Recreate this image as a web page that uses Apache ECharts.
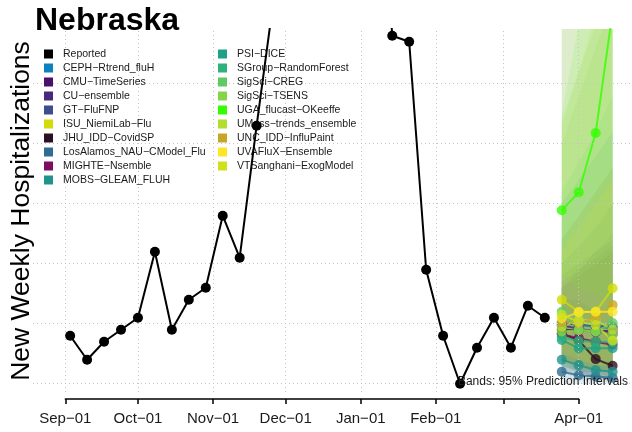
<!DOCTYPE html>
<html>
<head>
<meta charset="utf-8">
<script src="https://cdn.jsdelivr.net/npm/echarts@6/dist/echarts.min.js"></script>
<style>
  html, body { margin: 0; padding: 0; background: #fff; }
  #chart { width: 632px; height: 432px; }
</style>
</head>
<body>
<div id="chart"></div>
<script>
// reported weekly hospitalizations (week ending Saturday)
var reportedDates = ['2022-09-03', '2022-09-10', '2022-09-17', '2022-09-24', '2022-10-01', '2022-10-08',
  '2022-10-15', '2022-10-22', '2022-10-29', '2022-11-05', '2022-11-12', '2022-11-19', '2022-11-26',
  '2022-12-03', '2022-12-10', '2022-12-17', '2022-12-24', '2022-12-31', '2023-01-07', '2023-01-14',
  '2023-01-21', '2023-01-28', '2023-02-04', '2023-02-11', '2023-02-18', '2023-02-25', '2023-03-04',
  '2023-03-11', '2023-03-18'];
var reportedValues = [8, 4, 7, 9, 11, 22, 9, 14, 16, 28, 21, 43, 64,
  88, 115, 130, 122, 110, 100, 58, 57, 19, 8, 0, 6, 11, 6, 13, 11];

// forecast horizons
var forecastDates = ['2023-03-25', '2023-04-01', '2023-04-08', '2023-04-15'];

var modelNames = ['CEPH−Rtrend_fluH', 'CMU−TimeSeries', 'CU−ensemble', 'GT−FluFNP', 'ISU_NiemiLab−Flu',
  'JHU_IDD−CovidSP', 'LosAlamos_NAU−CModel_Flu', 'MIGHTE−Nsemble', 'MOBS−GLEAM_FLUH', 'PSI−DICE',
  'SGroup−RandomForest', 'SigSci−CREG', 'SigSci−TSENS', 'UGA_flucast−OKeeffe', 'UMass−trends_ensemble',
  'UNC_IDD−InfluPaint', 'UVAFluX−Ensemble', 'VTSanghani−ExogModel'];
var modelColors = ['#0A82BE', '#4B0F6E', '#472A7A', '#3D4F8B', '#D2DC06',
  '#2D0F22', '#2F6E91', '#7D0E5F', '#21938C', '#1EA187',
  '#2DB37B', '#5FCA60', '#86D549', '#33FF00', '#B3DE2F',
  '#C7A826', '#FDE725', '#CDE11D'];

// median forecasts
var medians = [
  [10.3, 9.8, 9.5, 9.3],
  [9.0, 8.9, 8.8, 8.8],
  [9.7, 9.2, 8.6, 8.3],
  [9.9, 10.0, 9.7, 9.5],
  [14.0, 12.0, 12.0, 15.9],
  [8.4, 7.2, 4.1, 3.0],
  [2.0, 1.4, 1.2, 1.0],
  [8.2, 7.6, 7.0, 6.5],
  [4.0, 3.1, 2.3, 2.0],
  [7.3, 5.9, 5.9, 5.9],
  [7.8, 7.1, 7.0, 7.0],
  [12.0, 9.0, 8.7, 10.1],
  [8.7, 8.9, 8.7, 8.1],
  [28.9, 31.9, 41.8, 62],
  [9.5, 10.6, 10.6, 9.0],
  [10.3, 10.1, 11.0, 13.1],
  [10.9, 11.9, 12.0, 12.0],
  [11.5, 10.3, 9.8, 7.2]
];
// 95% interval bounds
var lower = [
  [3, 2, 1, 0.5], [4, 3, 2, 2], [4, 3, 2, 2], [3, 2, 2, 1], [6, 4, 3, 3],
  [4, 2, 1, 0.5], [0, 0, 0, 0], [2, 1, 1, 0.5], [1, 0.5, 0.5, 0.3], [2, 2, 1, 1],
  [3, 2, 2, 1], [4, 3, 3, 3], [3, 2, 2, 2], [18, 16, 15, 14], [3, 3, 2, 2],
  [4, 3, 3, 3], [5, 4, 3, 3], [4, 3, 2, 1]
];
var upper = [
  [62, 75, 90, 105], [18, 20, 22, 24], [17, 19, 21, 23], [20, 23, 26, 30], [43, 52, 62, 72],
  [14, 14, 12, 12], [16, 19, 22, 25], [16, 18, 20, 22], [24, 28, 32, 36], [30, 34, 38, 42],
  [32, 37, 42, 48], [44, 52, 60, 70], [40, 48, 56, 64], [45, 60, 85, 120], [70, 85, 100, 120],
  [24, 28, 32, 36], [22, 26, 30, 34], [62, 75, 90, 110]
];

// axis ticks
var tickDates = ['2022-09-01', '2022-10-01', '2022-11-01', '2022-12-01', '2023-01-01', '2023-02-01', '2023-03-01', '2023-04-01'];
var tickLabels = ['Sep−01', 'Oct−01', 'Nov−01', 'Dec−01', 'Jan−01', 'Feb−01', '', 'Apr−01'];
var gridValues = [0, 10, 20, 30, 40, 50];

function ts(s) {
  var p = s.split('-');
  return new Date(+p[0], +p[1] - 1, +p[2]).getTime();
}
var DAY = 24 * 3600 * 1000;
var tickTimes = tickDates.map(ts);

var chart = echarts.init(document.getElementById('chart'));

var series = [];

// prediction bands
modelNames.forEach(function (name, k) {
  series.push({
    name: name + ' band',
    type: 'custom',
    z: 2,
    silent: true,
    data: forecastDates.map(function (d, i) { return [ts(d), lower[k][i], upper[k][i]]; }),
    encode: { x: 0, y: [1, 2] },
    renderItem: function (params, api) {
      if (params.dataIndex !== 0) return;
      var pts = [];
      for (var i = 0; i < forecastDates.length; i++) {
        pts.push(api.coord([ts(forecastDates[i]), upper[k][i]]));
      }
      for (var j = forecastDates.length - 1; j >= 0; j--) {
        pts.push(api.coord([ts(forecastDates[j]), lower[k][j]]));
      }
      var cs = params.coordSys;
      return {
        type: 'polygon',
        shape: { points: pts },
        style: { fill: modelColors[k], opacity: 0.11 },
        clipPath: { type: 'rect', shape: { x: cs.x, y: cs.y, width: cs.width, height: cs.height } }
      };
    }
  });
});

// dotted grid lines, drawn over the bands
series.push({
  name: 'gridlines',
  type: 'line',
  data: [],
  z: 3,
  silent: true,
  markLine: {
    silent: true,
    symbol: ['none', 'none'],
    label: { show: false },
    lineStyle: { color: '#c4c4c4', width: 1, type: [1, 3] },
    data: gridValues.map(function (v) { return { yAxis: v }; })
      .concat(tickTimes.map(function (t) { return { xAxis: t }; }))
  }
});

// median lines
modelNames.forEach(function (name, k) {
  series.push({
    name: name,
    type: 'line',
    z: 4,
    data: forecastDates.map(function (d, i) { return [ts(d), medians[k][i]]; }),
    symbol: 'circle',
    symbolSize: 10,
    lineStyle: { color: modelColors[k], width: 2, opacity: 0.8 },
    itemStyle: { color: modelColors[k], opacity: 0.8 },
    clip: true
  });
});

series.push({
  name: 'Reported',
  type: 'line',
  z: 11,
  data: reportedDates.map(function (d, i) { return [ts(d), reportedValues[i]]; }),
  symbol: 'circle',
  symbolSize: 10,
  lineStyle: { color: '#000', width: 2 },
  itemStyle: { color: '#000' },
  clip: true
});

var legendText = { fontSize: 10.5, color: '#1a1a1a', fontFamily: 'Liberation Sans', lineHeight: 14, padding: [0, 0, 0, 5] };
var allNames = ['Reported'].concat(modelNames);
var allColors = ['#000000'].concat(modelColors);
function legendItems(from, to) {
  var out = [];
  for (var i = from; i < to; i++) {
    out.push({ name: allNames[i], icon: 'rect', itemStyle: { color: allColors[i], opacity: 1, borderWidth: 0 } });
  }
  return out;
}

var option = {
  animation: false,
  backgroundColor: '#fff',
  grid: [
    { left: 33, right: 0, top: 29, bottom: 40 },
    { left: 65.3, width: 513.4, top: 398, height: 1 }
  ],
  xAxis: [
    {
      type: 'value',
      gridIndex: 0,
      min: tickTimes[0] - 13.34 * DAY,
      max: tickTimes[7] + 22.0 * DAY,
      show: false
    },
    {
      type: 'value',
      gridIndex: 1,
      min: tickTimes[0],
      max: tickTimes[7],
      axisLine: { show: true, lineStyle: { color: '#000', width: 1.5 } },
      axisTick: { show: true, length: 5, lineStyle: { color: '#000', width: 1.5 }, customValues: tickTimes },
      axisLabel: {
        customValues: tickTimes,
        fontSize: 15,
        color: '#1a1a1a',
        fontFamily: 'Liberation Sans',
        margin: 12,
        formatter: function (v) {
          var idx = tickTimes.indexOf(v);
          return idx >= 0 ? tickLabels[idx] : '';
        }
      },
      splitLine: { show: false }
    }
  ],
  yAxis: [
    { type: 'value', gridIndex: 0, min: -1.38, max: 59.12, show: false },
    { type: 'value', gridIndex: 1, show: false }
  ],
  legend: [
    {
      left: 44, top: 47, orient: 'vertical', padding: 0, itemGap: 0, z: 10,
      itemWidth: 9, itemHeight: 9, selectedMode: false,
      textStyle: legendText, data: legendItems(0, 10)
    },
    {
      left: 218, top: 47, orient: 'vertical', padding: 0, itemGap: 0, z: 10,
      itemWidth: 9, itemHeight: 9, selectedMode: false,
      textStyle: legendText, data: legendItems(10, 19)
    }
  ],
  graphic: [
    {
      type: 'text', left: 35, top: 5, z: 10,
      style: { text: 'Nebraska', fontSize: 32, fontWeight: 'bold', fontFamily: 'Liberation Sans', fill: '#000' }
    },
    {
      type: 'text', x: 22, y: 211, rotation: Math.PI / 2, z: 10,
      style: { text: 'New Weekly Hospitalizations', fontSize: 26.5, fontFamily: 'Liberation Sans', fill: '#000', align: 'center', verticalAlign: 'middle' }
    },
    {
      type: 'text', x: 628, y: 382, z: 12,
      style: { text: 'Bands: 95% Prediction Intervals', fontSize: 12, fontFamily: 'Liberation Sans', fill: '#1a1a1a', align: 'right', verticalAlign: 'middle' }
    }
  ],
  series: series
};

chart.setOption(option);
</script>
</body>
</html>
